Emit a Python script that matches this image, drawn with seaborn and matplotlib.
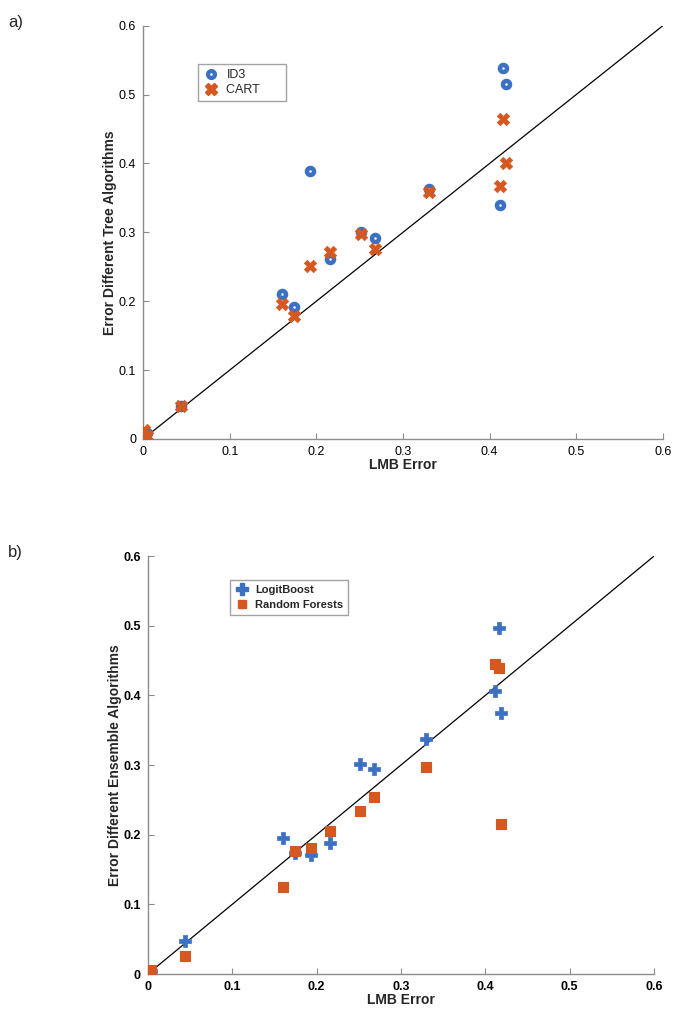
import matplotlib
matplotlib.use("Agg")
import matplotlib.pyplot as plt
import seaborn as sns
from matplotlib.lines import Line2D

# LMB error (x axis) shared by both panels
lmb_err = [0.001, 0.004, 0.044, 0.160, 0.174, 0.193, 0.216, 0.251, 0.268, 0.330, 0.412, 0.416, 0.419]

# panel a: single tree algorithms
id3_err = [0.004, 0.008, 0.048, 0.211, 0.191, 0.389, 0.261, 0.300, 0.292, 0.363, 0.339, 0.538, 0.515]
cart_err = [0.013, 0.005, 0.048, 0.196, 0.178, 0.251, 0.272, 0.298, 0.276, 0.359, 0.367, 0.465, 0.400]

# panel b: ensemble algorithms
logit_err = [0.003, 0.005, 0.047, 0.195, 0.174, 0.171, 0.188, 0.302, 0.294, 0.338, 0.406, 0.497, 0.374]
rf_err = [0.002, 0.006, 0.026, 0.125, 0.177, 0.181, 0.206, 0.234, 0.254, 0.297, 0.445, 0.440, 0.216]

diag = [0, 0.6]
ticks = [0, 0.1, 0.2, 0.3, 0.4, 0.5, 0.6]
tick_labels = ["0", "0.1", "0.2", "0.3", "0.4", "0.5", "0.6"]

BLUE = "#3b70c2"
ORANGE = "#d4581f"

sns.set_theme(style="white")
plt.rcParams["font.family"] = ["Liberation Sans", "DejaVu Sans"]

fig = plt.figure(figsize=(6.75, 10.28), dpi=100)
ax_a = fig.add_axes([0.212, 0.573, 0.770, 0.402])
ax_b = fig.add_axes([0.219, 0.0525, 0.750, 0.4066])


def style_axis(ax, bold_ticks):
    ax.set_xlim(0, 0.6)
    ax.set_ylim(0, 0.6)
    ax.set_xticks(ticks)
    ax.set_yticks(ticks)
    w = "bold" if bold_ticks else "normal"
    ax.set_xticklabels(tick_labels, fontsize=9, fontweight=w)
    ax.set_yticklabels(tick_labels, fontsize=9, fontweight=w)
    for s in ["top", "right"]:
        ax.spines[s].set_visible(False)
    for s in ["left", "bottom"]:
        ax.spines[s].set_color("#8c8c8c")
        ax.spines[s].set_linewidth(1.0)
    ax.tick_params(direction="in", length=4, width=0.8, color="#8c8c8c",
                   labelcolor="black", pad=5, left=True, bottom=True)


# ---- panel a ----
sns.lineplot(x=diag, y=diag, ax=ax_a, color="black", linewidth=0.9, zorder=1)
sns.scatterplot(x=lmb_err, y=id3_err, ax=ax_a, marker="o", s=26,
                facecolor="white", edgecolor=BLUE, linewidth=3.2, zorder=3)
sns.scatterplot(x=lmb_err, y=cart_err, ax=ax_a, marker="X", s=80,
                color=ORANGE, edgecolor=ORANGE, linewidth=0.5, zorder=3)
style_axis(ax_a, False)
ax_a.set_xlabel("LMB Error", fontsize=10, fontweight="bold", labelpad=0)
ax_a.set_ylabel("Error Different Tree Algorithms", fontsize=10, fontweight="bold", labelpad=1)

h_a = [Line2D([], [], linestyle="none", marker="o", markersize=5, markerfacecolor="white",
              markeredgecolor=BLUE, markeredgewidth=3.0),
       Line2D([], [], linestyle="none", marker="X", markersize=8.5, color=ORANGE)]
leg = ax_a.legend(h_a, ["ID3", "CART      "], loc="upper left", bbox_to_anchor=(0.093, 0.922),
                  frameon=True, fancybox=False, edgecolor="#8c8c8c", fontsize=9,
                  handletextpad=0.6, borderpad=0.4, labelspacing=0.25, handlelength=1.3)
leg.get_frame().set_linewidth(1.0)

# ---- panel b ----
sns.lineplot(x=diag, y=diag, ax=ax_b, color="black", linewidth=0.9, zorder=1)
sns.scatterplot(x=lmb_err, y=logit_err, ax=ax_b, marker="P", s=80,
                color=BLUE, edgecolor=BLUE, linewidth=0.5, zorder=3)
sns.scatterplot(x=lmb_err, y=rf_err, ax=ax_b, marker="s", s=42,
                color=ORANGE, edgecolor=ORANGE, linewidth=0.8, zorder=3)
style_axis(ax_b, True)
ax_b.set_xlabel("LMB Error", fontsize=10, fontweight="bold", labelpad=0)
ax_b.set_ylabel("Error Different Ensemble Algorithms", fontsize=10, fontweight="bold", labelpad=1)

h_b = [Line2D([], [], linestyle="none", marker="P", markersize=8.5, color=BLUE),
       Line2D([], [], linestyle="none", marker="s", markersize=6, color=ORANGE)]
leg = ax_b.legend(h_b, ["LogitBoost", "Random Forests"], loc="upper left",
                  bbox_to_anchor=(0.152, 0.957), frameon=True, fancybox=False,
                  edgecolor="#8c8c8c", prop={"size": 8, "weight": "bold"},
                  handletextpad=0.6, borderpad=0.45, labelspacing=0.45, handlelength=1.2)
leg.get_frame().set_linewidth(1.0)

fig.text(0.012, 0.985, "a)", fontsize=12, va="top")
fig.text(0.012, 0.470, "b)", fontsize=12, va="top")

fig.savefig("out.png", dpi=100, facecolor="white")
